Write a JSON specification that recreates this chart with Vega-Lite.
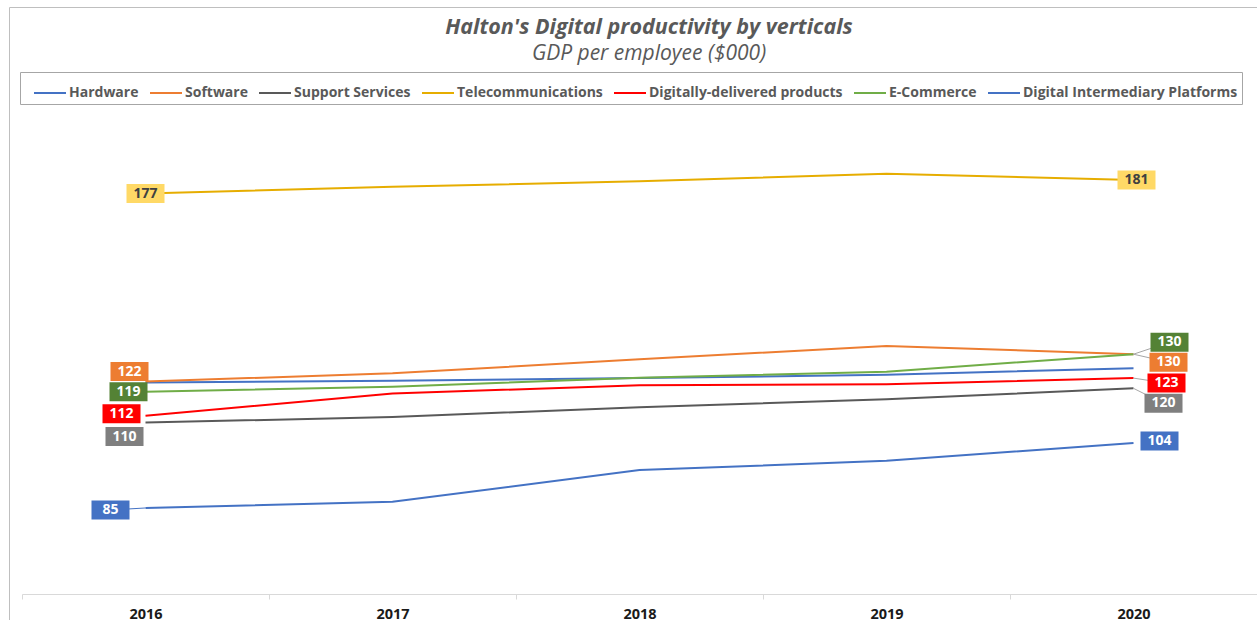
{
  "$schema": "https://vega.github.io/schema/vega-lite/v6.json",
  "width": 1248,
  "height": 613,
  "autosize": {"type": "none"},
  "padding": {"left": 9, "top": 7, "right": 0, "bottom": 0},
  "background": "white",
  "title": {
    "text": "Halton's Digital productivity  by verticals",
    "subtitle": "GDP per employee ($000)",
    "anchor": "middle",
    "frame": "group",
    "offset": -57,
    "dx": 16,
    "font": "Open Sans",
    "fontSize": 21.5,
    "fontStyle": "italic",
    "fontWeight": "bold",
    "color": "#595959",
    "subtitleFont": "Open Sans",
    "subtitleFontSize": 21,
    "subtitleFontStyle": "italic",
    "subtitleFontWeight": "normal",
    "subtitleColor": "#595959",
    "subtitlePadding": 4.5
  },
  "config": {
    "view": {"stroke": "#BFBFBF", "strokeWidth": 1},
    "font": "Open Sans"
  },
  "data": {
    "values": [
      {"year": "2016", "series": "Hardware", "value": 121.7},
      {"year": "2017", "series": "Hardware", "value": 122.2},
      {"year": "2018", "series": "Hardware", "value": 123.0},
      {"year": "2019", "series": "Hardware", "value": 124.0},
      {"year": "2020", "series": "Hardware", "value": 125.9},
      {"year": "2016", "series": "Software", "value": 122},
      {"year": "2017", "series": "Software", "value": 124.4},
      {"year": "2018", "series": "Software", "value": 128.5},
      {"year": "2019", "series": "Software", "value": 132.4},
      {"year": "2020", "series": "Software", "value": 130},
      {"year": "2016", "series": "Support Services", "value": 110},
      {"year": "2017", "series": "Support Services", "value": 111.6},
      {"year": "2018", "series": "Support Services", "value": 114.5},
      {"year": "2019", "series": "Support Services", "value": 116.8},
      {"year": "2020", "series": "Support Services", "value": 120},
      {"year": "2016", "series": "Telecommunications", "value": 177},
      {"year": "2017", "series": "Telecommunications", "value": 179.0},
      {"year": "2018", "series": "Telecommunications", "value": 180.6},
      {"year": "2019", "series": "Telecommunications", "value": 182.8},
      {"year": "2020", "series": "Telecommunications", "value": 181},
      {"year": "2016", "series": "Digitally-delivered products", "value": 112},
      {"year": "2017", "series": "Digitally-delivered products", "value": 118.5},
      {"year": "2018", "series": "Digitally-delivered products", "value": 120.9},
      {"year": "2019", "series": "Digitally-delivered products", "value": 121.2},
      {"year": "2020", "series": "Digitally-delivered products", "value": 123},
      {"year": "2016", "series": "E-Commerce", "value": 119},
      {"year": "2017", "series": "E-Commerce", "value": 120.5},
      {"year": "2018", "series": "E-Commerce", "value": 123.1},
      {"year": "2019", "series": "E-Commerce", "value": 124.9},
      {"year": "2020", "series": "E-Commerce", "value": 130},
      {"year": "2016", "series": "Digital Intermediary Platforms", "value": 85},
      {"year": "2017", "series": "Digital Intermediary Platforms", "value": 86.8},
      {"year": "2018", "series": "Digital Intermediary Platforms", "value": 96.1},
      {"year": "2019", "series": "Digital Intermediary Platforms", "value": 98.8},
      {"year": "2020", "series": "Digital Intermediary Platforms", "value": 104}
    ]
  },
  "encoding": {
    "x": {
      "field": "year",
      "type": "ordinal",
      "scale": {"type": "band", "range": [13, 1248], "paddingInner": 0, "paddingOuter": 0},
      "axis": {
        "title": null,
        "labelAngle": 0,
        "labelFont": "Open Sans",
        "labelFontSize": 14.5,
        "labelFontWeight": "bold",
        "labelColor": "#1a1a1a",
        "domainColor": "#D9D9D9",
        "tickColor": "#D9D9D9",
        "tickSize": 5,
        "tickBand": "extent",
        "offset": -26,
        "labelPadding": 8,
        "grid": false
      }
    },
    "y": {
      "field": "value",
      "type": "quantitative",
      "scale": {"domain": [52.22, 231.6], "nice": false, "zero": false},
      "axis": null
    }
  },
  "layer": [
    {
      "mark": {"type": "line", "strokeWidth": 2},
      "encoding": {
        "color": {
          "field": "series",
          "type": "nominal",
          "scale": {
            "domain": ["Hardware", "Software", "Support Services", "Telecommunications", "Digitally-delivered products", "E-Commerce", "Digital Intermediary Platforms"],
            "range": ["#4472C4", "#ED7D31", "#595959", "#E6AD00", "#FF0000", "#70AD47", "#4472C4"]
          },
          "legend": {
            "title": null,
            "orient": "none",
            "legendX": 11,
            "legendY": 65,
            "direction": "horizontal",
            "columns": 7,
            "symbolType": "stroke",
            "symbolSize": 1024,
            "symbolStrokeWidth": 2,
            "symbolOffset": 9,
            "labelFont": "Open Sans",
            "labelFontSize": 14,
            "labelFontWeight": "bold",
            "labelColor": "#595959",
            "labelLimit": 500,
            "labelOffset": 2,
            "columnPadding": 1,
            "padding": 4,
            "strokeColor": "#A6A6A6"
          }
        }
      }
    },
    {
      "transform": [{"filter": "(datum.year == '2020' && (datum.series == 'Software' || datum.series == 'E-Commerce' || datum.series == 'Digitally-delivered products' || datum.series == 'Support Services')) || (datum.year == '2016' && datum.series == 'Digital Intermediary Platforms')"}],
      "mark": {
        "type": "rule",
        "strokeWidth": 1,
        "x2Offset": {"expr": "(datum.year == '2016' ? {'Software': -16, 'E-Commerce': -17, 'Digitally-delivered products': -24, 'Support Services': -21, 'Digital Intermediary Platforms': -35, 'Telecommunications': 0} : {'Software': 35, 'E-Commerce': 36, 'Digitally-delivered products': 33, 'Support Services': 30, 'Digital Intermediary Platforms': 26, 'Telecommunications': 3})[datum.series]"},
        "y2Offset": {"expr": "(datum.year == '2016' ? {'Software': -10, 'E-Commerce': 0, 'Digitally-delivered products': -2, 'Support Services': 14, 'Digital Intermediary Platforms': 2, 'Telecommunications': 0} : {'Software': 8, 'E-Commerce': -12, 'Digitally-delivered products': 5, 'Support Services': 15, 'Digital Intermediary Platforms': -2, 'Telecommunications': 0})[datum.series]"}
      },
      "encoding": {
        "x2": {"field": "year"},
        "y2": {"field": "value"},
        "color": {"condition": {"test": "datum.year == '2016'", "value": "#4472C4"}, "value": "#A6A6A6"}
      }
    },
    {
      "transform": [{"filter": "(datum.year == '2016' || datum.year == '2020') && datum.series != 'Hardware'"}],
      "mark": {
        "type": "point",
        "shape": "M-1,-0.5H1V0.5H-1Z",
        "size": 1444,
        "filled": true,
        "opacity": 1,
        "strokeWidth": 0,
        "xOffset": {"expr": "(datum.year == '2016' ? {'Software': -16, 'E-Commerce': -17, 'Digitally-delivered products': -24, 'Support Services': -21, 'Digital Intermediary Platforms': -35, 'Telecommunications': 0} : {'Software': 35, 'E-Commerce': 36, 'Digitally-delivered products': 33, 'Support Services': 30, 'Digital Intermediary Platforms': 26, 'Telecommunications': 3})[datum.series]"},
        "yOffset": {"expr": "(datum.year == '2016' ? {'Software': -10, 'E-Commerce': 0, 'Digitally-delivered products': -2, 'Support Services': 14, 'Digital Intermediary Platforms': 2, 'Telecommunications': 0} : {'Software': 8, 'E-Commerce': -12, 'Digitally-delivered products': 5, 'Support Services': 15, 'Digital Intermediary Platforms': -2, 'Telecommunications': 0})[datum.series]"}
      },
      "encoding": {
        "fill": {
          "field": "series",
          "type": "nominal",
          "scale": {
            "domain": ["Software", "Support Services", "Telecommunications", "Digitally-delivered products", "E-Commerce", "Digital Intermediary Platforms"],
            "range": ["#ED7D31", "#7F7F7F", "#FFD966", "#FF0000", "#548235", "#4472C4"]
          },
          "legend": null
        }
      }
    },
    {
      "transform": [{"filter": "(datum.year == '2016' || datum.year == '2020') && datum.series != 'Hardware'"}],
      "mark": {
        "type": "text",
        "font": "Open Sans",
        "fontSize": 14,
        "fontWeight": "bold",
        "align": "center",
        "baseline": "middle",
        "xOffset": {"expr": "(datum.year == '2016' ? {'Software': -16, 'E-Commerce': -17, 'Digitally-delivered products': -24, 'Support Services': -21, 'Digital Intermediary Platforms': -35, 'Telecommunications': 0} : {'Software': 35, 'E-Commerce': 36, 'Digitally-delivered products': 33, 'Support Services': 30, 'Digital Intermediary Platforms': 26, 'Telecommunications': 3})[datum.series]"},
        "yOffset": {"expr": "(datum.year == '2016' ? {'Software': -10, 'E-Commerce': 0, 'Digitally-delivered products': -2, 'Support Services': 14, 'Digital Intermediary Platforms': 2, 'Telecommunications': 0} : {'Software': 8, 'E-Commerce': -12, 'Digitally-delivered products': 5, 'Support Services': 15, 'Digital Intermediary Platforms': -2, 'Telecommunications': 0})[datum.series]"}
      },
      "encoding": {
        "text": {"field": "value", "type": "quantitative", "format": ".0f"},
        "color": {"condition": {"test": "datum.series == 'Telecommunications'", "value": "#404040"}, "value": "#FFFFFF"}
      }
    }
  ]
}
